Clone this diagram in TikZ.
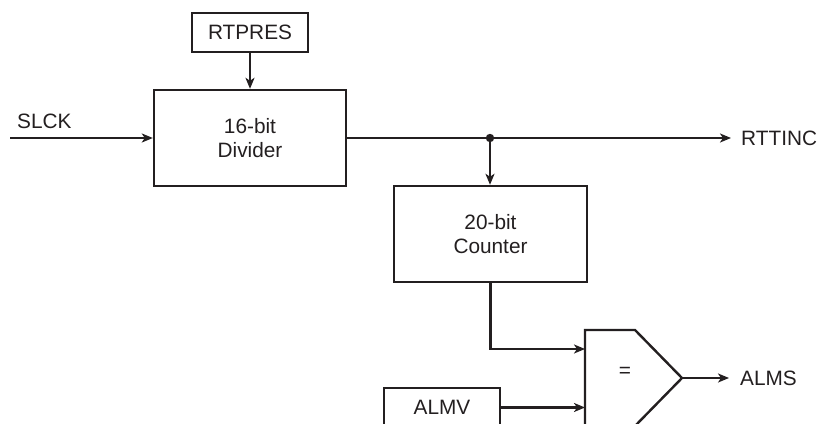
\documentclass[tikz,border=0pt]{standalone}
\usepackage{fontspec}
\setmainfont{Liberation Sans}
\usetikzlibrary{arrows.meta,calc}
\definecolor{ink}{HTML}{231F20}
\begin{document}
\begin{tikzpicture}[x=1pt,y=-1pt,
  every node/.style={font=\fontsize{20.8}{24.5}\selectfont, text=ink},
  blk/.style={draw=ink, line width=2.4pt, inner sep=0pt, align=center},
  wire/.style={draw=ink, line width=2.4pt},
  arr/.style={wire, -{Stealth[length=11pt,width=9pt,inset=3pt]}},
  lbl/.style={inner sep=0pt}]
\useasboundingbox (0,0) rectangle (821,423);
\clip (0,0) rectangle (821,423);
% blocks
\node[blk, minimum width=116pt, minimum height=39pt] (rtpres) at (250,32.5) {RTPRES};
\node[blk, minimum width=192pt, minimum height=96pt] (div) at (250,138) {16-bit\\Divider};
\node[blk, minimum width=193pt, minimum height=96pt] (cnt) at (490.5,234) {20-bit\\Counter};
\node[blk, minimum width=116pt, minimum height=39pt] (almv) at (442,407.5) {ALMV};
% comparator
\coordinate (c1) at (585,330);
\coordinate (c2) at (635,330);
\coordinate (ct) at (682,378);
\coordinate (c4) at (635,426);
\coordinate (c5) at (585,426);
\draw[wire, line join=miter] (c1) -- (c2) -- (ct) -- (c4) -- (c5) -- cycle;
\node (eq) at (625,372) {=};
% labels
\node[lbl, anchor=base west] (slck) at (17,128) {SLCK};
\coordinate (slckin) at (10,138);
\node[lbl, anchor=west, inner xsep=10pt] (rttinc) at (731,138) {RTTINC};
\node[lbl, anchor=west, inner xsep=11pt] (alms) at (729,378) {ALMS};
% junction
\coordinate (j) at (490,138);
\fill[ink] (j) circle (4.2pt);
% connectors
\draw[arr] (rtpres.south) -- (div.north);
\draw[arr] (slckin) -- (div.west);
\draw[arr] (div.east) -- (rttinc.west);
\draw[arr] (j) -- (j |- cnt.north);
\draw[arr] (cnt.south) |- (c1 |- 0,349);
\draw[arr] (almv.east) -- (c1 |- almv.east);
\draw[arr] (ct) -- (alms.west);
\end{tikzpicture}
\end{document}
